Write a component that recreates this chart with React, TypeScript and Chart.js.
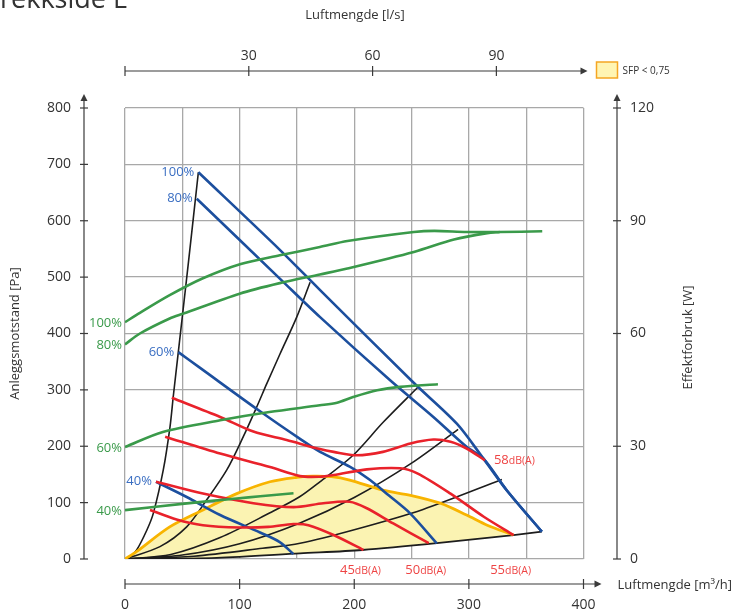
import React, { useEffect, useRef } from "react";
import { Chart, registerables } from "chart.js";

Chart.register(...registerables);

const FONT = "'Open Sans', 'DejaVu Sans', sans-serif";

// Axis ticks
const flowTicks = [0, 100, 200, 300, 400]; // m³/h
const flowLsTicks = [0, 30, 60, 90]; // l/s
const pressureTicks = [0, 100, 200, 300, 400, 500, 600, 700, 800]; // Pa
const powerTicks = [0, 30, 60, 90, 120]; // W

// System curves (black), flow m³/h vs pressure Pa
const sysA_x = [0, 5, 10.2, 19, 24.7, 33.4, 39.3, 42.2, 46.5, 55, 64];
const sysA_y = [0, 5, 16, 51, 81, 158, 235, 290, 367, 520, 686];
const sysB_x = [0, 30.5, 53.8, 71.3, 88.8, 103.2, 115, 123.7, 135.3, 149.8, 161.5];
const sysB_y = [0, 22, 57, 105, 158, 217, 270, 311, 364, 429, 491];
const sysC_x = [0, 40, 83, 126.5, 152, 170, 199, 225, 255.7];
const sysC_y = [0, 8, 38, 82, 110, 137, 184, 242, 305];
const sysD_x = [0, 50, 100, 152.7, 200, 250, 290.6];
const sysD_y = [0, 7, 27, 64, 109, 170, 230];
const sysE_x = [0, 60, 120, 152.7, 200, 260, 328.8];
const sysE_y = [0, 5, 19, 28, 52, 88, 141];
const sysF_x = [0, 80, 152.7, 207, 272, 338.9, 363.7];
const sysF_y = [0, 2, 10, 16, 28, 42.5, 48.4];

// Fan curves (blue), Pa
const fan100_x = [64, 135.3, 170.2, 251.6, 289.5, 312.7, 333, 363.7];
const fan100_y = [686, 548, 477, 313, 240, 178, 122, 48.4];
const fan80_x = [62.6, 135.3, 170.2, 231.3, 269, 298, 312.7, 333, 363.7];
const fan80_y = [639, 497, 429, 317, 252, 199, 178, 122, 48.4];
const fan60_x = [46.5, 65.5, 117.8, 152.7, 170.2, 196.4, 213.8, 230, 248.7, 272];
const fan60_y = [367, 339, 262, 213, 190, 163.5, 140, 113, 81, 27.8];
const fan40_x = [27, 53.8, 83, 117.8, 135, 146.9];
const fan40_y = [137, 110, 78, 47, 30, 9];
const fanLabels = ["100%", "80%", "60%", "40%"];

// Power consumption (green), W
const eff100_x = [0, 13, 39, 68, 101, 135, 170, 194, 252, 270, 298, 327, 364];
const eff100_y = [63, 65.5, 70.2, 74.7, 78.5, 80.8, 83, 84.6, 87, 87.3, 87, 87, 87.2];
const eff80_x = [0, 13, 39, 51, 100, 135, 170, 194, 252, 287, 316, 327];
const eff80_y = [57.1, 60, 64, 65.3, 70.6, 73.4, 75.7, 77.3, 81.7, 85, 86.7, 87];
const eff60_x = [0, 33, 83, 126, 170, 185, 199, 220, 240, 273];
const eff60_y = [29.8, 33.8, 36.9, 39.1, 40.9, 41.6, 43.1, 44.9, 45.8, 46.5];
const eff40_x = [0, 54, 97.5, 118, 147];
const eff40_y = [13, 14.8, 16.1, 16.7, 17.5];
const effLabels = ["100%", "80%", "60%", "40%"];

// Sound level curves (red), Pa
const snd58_x = [40.8, 83, 112, 141, 170, 182, 202, 225, 249, 269, 284, 298, 314];
const snd58_y = [286, 252, 226, 211, 195, 190, 184, 190, 205, 212, 208, 196, 175];
const snd55_x = [35, 83, 126.5, 152.7, 170, 182, 211, 240, 255, 284, 313, 339];
const snd55_y = [217, 187, 163, 147, 146, 149, 159, 161, 152, 116, 75, 42.5];
const snd50_x = [27, 68, 112, 147, 173, 196, 211, 234, 265];
const snd50_y = [137, 116, 99, 92, 99, 101.6, 90, 63, 28];
const snd45_x = [21.8, 45, 68, 100, 125, 147, 160, 182, 208];
const snd45_y = [87, 70, 60, 56, 57, 62, 60, 42.5, 16];
const soundLevels = ["58", "55", "50", "45"];
const soundUnit = "dB(A)";

// SFP < 0,75 boundary (orange), Pa
const sfp_x = [0, 10, 39, 68, 97.5, 126.5, 150, 164, 180, 196, 225, 249, 275, 298, 316, 339];
const sfp_y = [0, 13, 57, 87, 116, 137, 145, 147, 146, 140, 122, 113, 99, 78, 60, 42.5];

const BLACK = "#1d1d1d";
const BLUE = "#1c4f9e";
const BLUE_TXT = "#3a6ec2";
const GREEN = "#3a9a4a";
const RED = "#e9222b";
const RED_TXT = "#ee4444";
const ORANGE = "#f8b400";
const YELLOW = "#fbf3b2";
const AXIS = "#3a3a3a";
const TEXT = "#333333";

const toPoints = (xs: number[], ys: number[]) => xs.map((x, i) => ({ x, y: ys[i] }));

function arrow(ctx: CanvasRenderingContext2D, tx: number, ty: number, dir: "up" | "right") {
  ctx.beginPath();
  if (dir === "up") {
    ctx.moveTo(tx, ty);
    ctx.lineTo(tx - 3.5, ty + 7);
    ctx.lineTo(tx + 3.5, ty + 7);
  } else {
    ctx.moveTo(tx, ty);
    ctx.lineTo(tx - 7, ty - 3.5);
    ctx.lineTo(tx - 7, ty + 3.5);
  }
  ctx.closePath();
  ctx.fill();
}

function seg(ctx: CanvasRenderingContext2D, x1: number, y1: number, x2: number, y2: number) {
  ctx.beginPath();
  ctx.moveTo(x1, y1);
  ctx.lineTo(x2, y2);
  ctx.stroke();
}

const decorPlugin = {
  id: "decor",
  afterDraw(chart: any) {
    const { ctx, chartArea: a, scales } = chart;
    const sx = scales.x;
    const sy = scales.y;
    const sy2 = scales.y2;
    const sx2 = scales.x2;
    ctx.save();
    ctx.strokeStyle = AXIS;
    ctx.fillStyle = AXIS;
    ctx.lineWidth = 1.2;

    // Left: pressure axis
    const lx = a.left - 41;
    seg(ctx, lx, sy.getPixelForValue(0), lx, a.top - 8);
    arrow(ctx, lx, a.top - 14, "up");
    ctx.font = `14px ${FONT}`;
    ctx.textAlign = "right";
    ctx.textBaseline = "middle";
    pressureTicks.forEach((v) => {
      const py = sy.getPixelForValue(v);
      seg(ctx, lx - 4, py, lx + 4, py);
      ctx.fillStyle = TEXT;
      ctx.fillText(String(v), lx - 13, py);
      ctx.fillStyle = AXIS;
    });

    // Right: power axis
    const rx = a.right + 33.5;
    seg(ctx, rx, sy2.getPixelForValue(0), rx, a.top - 8);
    arrow(ctx, rx, a.top - 14, "up");
    ctx.textAlign = "left";
    powerTicks.forEach((v) => {
      const py = sy2.getPixelForValue(v);
      seg(ctx, rx - 4, py, rx + 4, py);
      ctx.fillStyle = TEXT;
      ctx.fillText(String(v), rx + 13, py);
      ctx.fillStyle = AXIS;
    });

    // Bottom: flow axis m³/h
    const by = a.bottom + 25;
    seg(ctx, sx.getPixelForValue(0), by, a.right + 12, by);
    arrow(ctx, a.right + 18, by, "right");
    ctx.textAlign = "center";
    flowTicks.forEach((v) => {
      const px = sx.getPixelForValue(v);
      seg(ctx, px, by - 5, px, by + 5);
      ctx.fillStyle = TEXT;
      ctx.fillText(String(v), px, by + 21);
      ctx.fillStyle = AXIS;
    });

    // Top: flow axis l/s
    const ty = a.top - 37;
    seg(ctx, sx2.getPixelForValue(0), ty, a.right - 2, ty);
    arrow(ctx, a.right + 4, ty, "right");
    flowLsTicks.forEach((v) => {
      const px = sx2.getPixelForValue(v);
      seg(ctx, px, ty - 5, px, ty + 5);
      if (v > 0) {
        ctx.fillStyle = TEXT;
        ctx.fillText(String(v), px, ty - 15);
        ctx.fillStyle = AXIS;
      }
    });

    // Legend: SFP area
    const lgx = a.right + 13;
    const lgy = ty - 9;
    ctx.fillStyle = "#fff5b3";
    ctx.fillRect(lgx, lgy, 21, 16);
    ctx.strokeStyle = "#f5a623";
    ctx.lineWidth = 1.5;
    ctx.strokeRect(lgx, lgy, 21, 16);
    ctx.fillStyle = TEXT;
    ctx.font = `10px ${FONT}`;
    ctx.textAlign = "left";
    ctx.fillText("SFP < 0,75", lgx + 26, ty);

    // Axis titles
    ctx.font = `13px ${FONT}`;
    ctx.fillStyle = TEXT;
    ctx.textAlign = "center";
    ctx.fillText("Luftmengde [l/s]", 355, 15);
    ctx.textAlign = "left";
    ctx.fillText("Luftmengde [m³/h]", a.right + 34, by + 1);
    ctx.save();
    ctx.translate(15, (a.top + a.bottom) / 2);
    ctx.rotate(-Math.PI / 2);
    ctx.textAlign = "center";
    ctx.fillText("Anleggsmotstand [Pa]", 0, 0);
    ctx.restore();
    ctx.save();
    ctx.translate(rx + 71, (a.top + a.bottom) / 2 + 4);
    ctx.rotate(-Math.PI / 2);
    ctx.textAlign = "center";
    ctx.fillText("Effektforbruk [W]", 0, 0);
    ctx.restore();

    // Page heading
    ctx.font = `27px ${FONT}`;
    ctx.textAlign = "right";
    ctx.textBaseline = "alphabetic";
    ctx.fillText("Avtrekkside E", 128, 8);

    // Curve labels
    ctx.textBaseline = "middle";
    ctx.font = `13px ${FONT}`;
    const fans = [
      [fan100_x, fan100_y],
      [fan80_x, fan80_y],
      [fan60_x, fan60_y],
      [fan40_x, fan40_y],
    ];
    ctx.fillStyle = BLUE_TXT;
    ctx.textAlign = "right";
    fans.forEach(([xs, ys], i) => {
      ctx.fillText(fanLabels[i], sx.getPixelForValue(xs[0]) - 4, sy.getPixelForValue(ys[0]));
    });
    const effs = [
      [eff100_x, eff100_y],
      [eff80_x, eff80_y],
      [eff60_x, eff60_y],
      [eff40_x, eff40_y],
    ];
    ctx.fillStyle = GREEN;
    effs.forEach(([xs, ys], i) => {
      ctx.fillText(effLabels[i], sx.getPixelForValue(xs[0]) - 3, sy2.getPixelForValue(ys[0]) + 1);
    });

    const snds = [
      [snd58_x, snd58_y],
      [snd55_x, snd55_y],
      [snd50_x, snd50_y],
      [snd45_x, snd45_y],
    ];
    ctx.fillStyle = RED_TXT;
    const bigFont = `13px ${FONT}`;
    const smallFont = `10.5px ${FONT}`;
    snds.forEach(([xs, ys], i) => {
      const ex = sx.getPixelForValue(xs[xs.length - 1]);
      const ey = sy.getPixelForValue(ys[ys.length - 1]);
      ctx.font = bigFont;
      const w1 = ctx.measureText(soundLevels[i]).width;
      ctx.font = smallFont;
      const w2 = ctx.measureText(soundUnit).width;
      let x0: number;
      let yy: number;
      if (i === 0) {
        x0 = ex + 9;
        yy = ey;
      } else {
        x0 = ex - 3 - (w1 + w2) / 2;
        yy = a.bottom + 11;
      }
      ctx.textAlign = "left";
      ctx.font = bigFont;
      ctx.fillText(soundLevels[i], x0, yy);
      ctx.font = smallFont;
      ctx.fillText(soundUnit, x0 + w1, yy + 1);
    });

    ctx.restore();
  },
};

export default function App() {
  const canvasRef = useRef<HTMLCanvasElement | null>(null);

  useEffect(() => {
    const canvas = canvasRef.current;
    if (!canvas) return;

    const line = (xs: number[], ys: number[], color: string, width: number, order: number, yAxisID = "y") => ({
      data: toPoints(xs, ys),
      borderColor: color,
      borderWidth: width,
      pointRadius: 0,
      fill: false,
      tension: 0.3,
      order,
      yAxisID,
    });

    const datasets: any[] = [
      line(sysF_x, sysF_y, BLACK, 1.8, 5),
      line(sysE_x, sysE_y, BLACK, 1.6, 5),
      line(sysD_x, sysD_y, BLACK, 1.6, 5),
      line(sysC_x, sysC_y, BLACK, 1.6, 5),
      line(sysB_x, sysB_y, BLACK, 1.6, 5),
      line(sysA_x, sysA_y, BLACK, 1.6, 5),
    ];
    // Shaded SFP region between the boundary and the lowest system curve
    datasets.push({
      data: toPoints(sfp_x, sfp_y),
      borderWidth: 0,
      borderColor: "rgba(0,0,0,0)",
      backgroundColor: YELLOW,
      pointRadius: 0,
      fill: { target: 0, above: YELLOW, below: YELLOW },
      tension: 0.3,
      order: 20,
    });
    datasets.push(line(sfp_x, sfp_y, ORANGE, 2.8, 4));
    datasets.push(line(fan100_x, fan100_y, BLUE, 2.6, 3));
    datasets.push(line(fan80_x, fan80_y, BLUE, 2.6, 3));
    datasets.push(line(fan60_x, fan60_y, BLUE, 2.6, 3));
    datasets.push(line(fan40_x, fan40_y, BLUE, 2.6, 3));
    datasets.push(line(snd58_x, snd58_y, RED, 2.6, 2));
    datasets.push(line(snd55_x, snd55_y, RED, 2.6, 2));
    datasets.push(line(snd50_x, snd50_y, RED, 2.6, 2));
    datasets.push(line(snd45_x, snd45_y, RED, 2.6, 2));
    datasets.push(line(eff100_x, eff100_y, GREEN, 2.6, 1, "y2"));
    datasets.push(line(eff80_x, eff80_y, GREEN, 2.6, 1, "y2"));
    datasets.push(line(eff60_x, eff60_y, GREEN, 2.6, 1, "y2"));
    datasets.push(line(eff40_x, eff40_y, GREEN, 2.6, 1, "y2"));

    const gridStyle = { color: "#a8a8a8", lineWidth: 1.3, drawTicks: false };

    const chart = new Chart(canvas, {
      type: "line",
      data: { datasets },
      options: {
        animation: false,
        responsive: false,
        maintainAspectRatio: false,
        devicePixelRatio: 1,
        layout: { padding: { left: 125, right: 168.5, top: 108, bottom: 54 } },
        plugins: {
          legend: { display: false },
          tooltip: { enabled: false },
        },
        scales: {
          x: {
            type: "linear",
            min: 0,
            max: 400,
            ticks: { stepSize: 50, display: false },
            grid: gridStyle,
            border: { display: false },
            afterFit: (s: any) => {
              s.height = 0;
            },
          },
          y: {
            type: "linear",
            min: 0,
            max: 800,
            ticks: { stepSize: 100, display: false },
            grid: gridStyle,
            border: { display: false },
            afterFit: (s: any) => {
              s.width = 0;
            },
          },
          y2: {
            type: "linear",
            position: "right",
            min: 0,
            max: 120,
            display: false,
          },
          x2: {
            type: "linear",
            position: "top",
            min: 0,
            max: 400 / 3.6,
            display: false,
          },
        },
      } as any,
      plugins: [decorPlugin],
    });

    return () => chart.destroy();
  }, []);

  return (
    <div style={{ position: "fixed", left: 0, top: 0, width: 752, height: 613, background: "#ffffff" }}>
      <canvas ref={canvasRef} width={752} height={613} style={{ display: "block" }} />
    </div>
  );
}
